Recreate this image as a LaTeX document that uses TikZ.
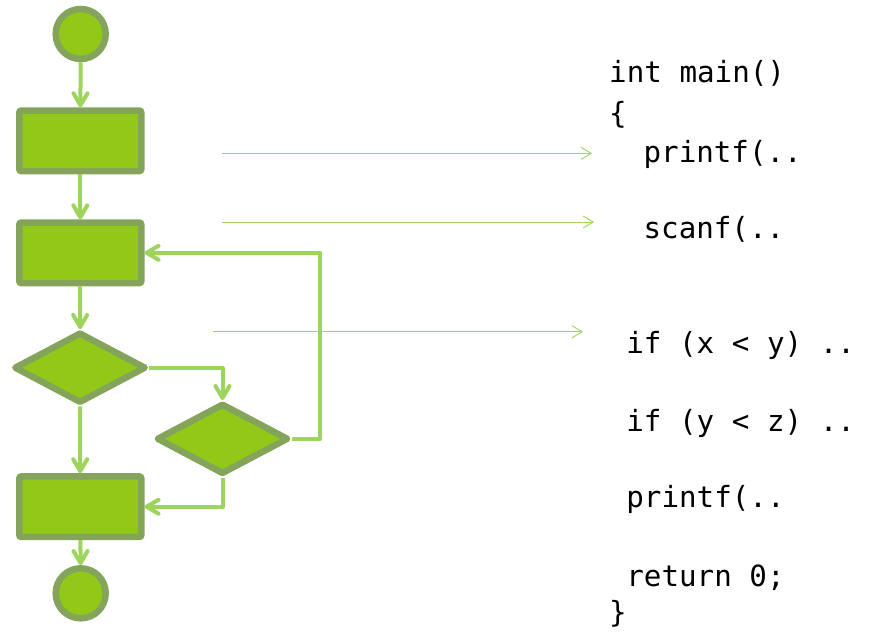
\documentclass[tikz,border=0pt]{standalone}
\usepackage{fontspec}
\setmonofont{DejaVu Sans Mono}
\usetikzlibrary{shapes.geometric,arrows.meta}
\definecolor{boxfill}{RGB}{146,201,24}
\definecolor{boxline}{RGB}{132,163,91}
\definecolor{conn}{RGB}{157,213,92}
\tikzset{
  stepbox/.style={rectangle,draw=boxline,fill=boxfill,line width=6.5pt,rounded corners=2pt,minimum width=122pt,minimum height=60.5pt,inner sep=0pt},
  endpoint/.style={circle,draw=boxline,fill=boxfill,line width=6.5pt,minimum size=50pt,inner sep=0pt},
  decision/.style={diamond,draw=boxline,fill=boxfill,line width=6.5pt,line join=round,minimum width=132pt,minimum height=71pt,aspect=1.86,inner sep=0pt},
  flow/.style={draw=conn,line width=4pt,line join=round,-{Straight Barb[length=12pt,width=14pt,round]}},
  pointer/.style={draw=conn,line width=0.9pt,-{Straight Barb[length=10pt,width=12pt]}},
  code/.style={anchor=base west,inner sep=0pt,font=\ttfamily\fontsize{29.2}{34}\selectfont}
}
\begin{document}
\begin{tikzpicture}[x=1pt,y=-1pt]
\useasboundingbox (0,0) rectangle (873,641);
% flowchart
\node[endpoint] (start) at (80.7,34) {};
\node[stepbox] (r1) at (80.3,140.8) {};
\node[stepbox] (r2) at (80.3,252.8) {};
\node[decision] (d1) at (80,367.7) {};
\node[decision] (d2) at (222.5,438.8) {};
\node[stepbox] (r3) at (80.3,506.7) {};
\node[endpoint] (stop) at (80.7,593.3) {};
\coordinate (loopx) at (320,438.8);
\draw[flow] (start) -- (r1);
\draw[flow] (r1) -- (r2);
\draw[flow] (r2) -- (d1);
\draw[flow] (d1.east) -| (d2.north);
\draw[flow] (d1) -- (r3);
\draw[flow] (d2.east) -- (loopx) |- (r2.east);
\draw[flow] (d2.south) |- (r3.east);
\draw[flow] (r3) -- (stop);
% code
\node[code] (l1) at (609,82.5) {int main()};
\node[code] (l2) at (609,123) {\{};
\node[code] (l3) at (643.4,162) {printf(..};
\node[code] (l4) at (643.4,238) {scanf(..};
\node[code] (l5) at (626.2,353.3) {if (x < y) ..};
\node[code] (l6) at (626.2,431.5) {if (y < z) ..};
\node[code] (l7) at (626.2,507) {printf(..};
\node[code] (l8) at (626.2,586) {return 0;};
\node[code] (l9) at (609,622) {\}};
% pointers
\coordinate (p1s) at (222,153.3);
\coordinate (p1e) at (592,153.3);
\coordinate (p2s) at (222,222);
\coordinate (p2e) at (594,222);
\coordinate (p3s) at (213,331.7);
\coordinate (p3e) at (583,331.7);
\draw[pointer] (p1s) -- (p1e);
\draw[pointer] (p2s) -- (p2e);
\draw[pointer] (p3s) -- (p3e);
\end{tikzpicture}
\end{document}
